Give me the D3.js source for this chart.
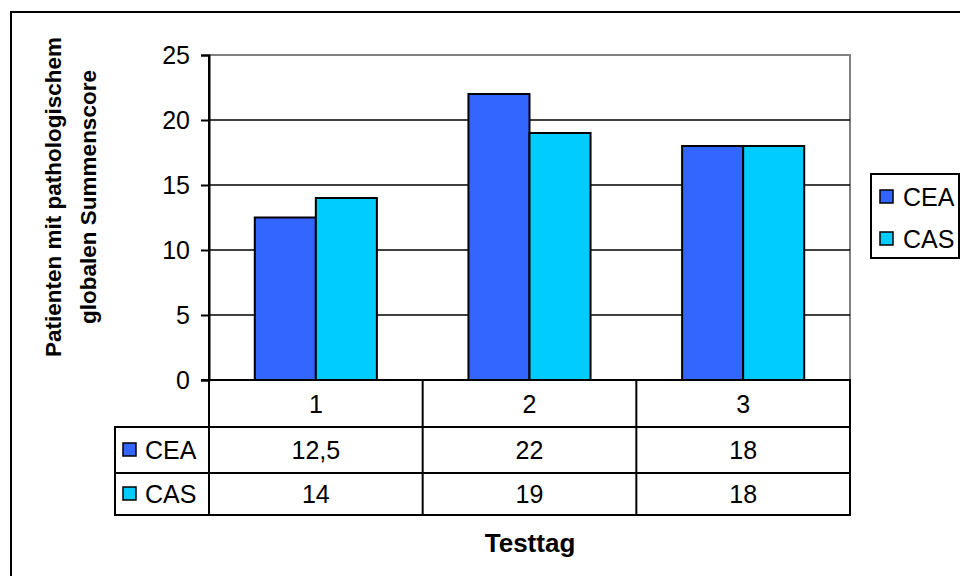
<!DOCTYPE html>
<html>
<head>
<meta charset="utf-8">
<script src="https://cdn.jsdelivr.net/npm/d3@7"></script>
<style>
  html, body { margin: 0; padding: 0; background: #fff; }
  svg text { font-family: "Liberation Sans", Arial, sans-serif; fill: #000; }
</style>
</head>
<body>
<svg id="chart" width="960" height="576"></svg>
<script>
// Testtag categories and the two patient groups
const categories = ["1", "2", "3"];
const seriesNames = ["CEA", "CAS"];
const ceaValues = [12.5, 22, 18];
const casValues = [14, 19, 18];
const tableLabels = [["12,5", "22", "18"], ["14", "19", "18"]];
const yTicks = [0, 5, 10, 15, 20, 25];
const seriesColors = ["#3366FF", "#00CCFF"];

const seriesValues = [ceaValues, casValues];
const FS = 25;

const svg = d3.select("#chart");

// outer chart frame
svg.append("rect")
  .attr("x", 11).attr("y", 12)
  .attr("width", 980).attr("height", 600)
  .attr("fill", "none").attr("stroke", "#000").attr("stroke-width", 2);

const plot = { left: 209, right: 850, top: 55, bottom: 380 };

const y = d3.scaleLinear().domain([0, 25]).range([plot.bottom, plot.top]);
const x0 = d3.scaleBand().domain(categories).range([plot.left, plot.right]).padding(0);
const x1 = d3.scaleBand().domain(seriesNames).range([0, x0.bandwidth()])
  .paddingInner(0).paddingOuter(0.75);

// plot area border (grey top and right)
svg.append("path")
  .attr("d", `M${plot.left},${plot.top}H${plot.right}V${plot.bottom}`)
  .attr("fill", "none").attr("stroke", "#808080").attr("stroke-width", 2);

// horizontal gridlines
svg.append("g")
  .selectAll("line")
  .data(yTicks.filter(t => t > 0 && t < 25))
  .join("line")
  .attr("x1", plot.left).attr("x2", plot.right)
  .attr("y1", d => Math.round(y(d))).attr("y2", d => Math.round(y(d)))
  .attr("stroke", "#000").attr("stroke-width", 1.7);

// bars
const groups = svg.append("g")
  .selectAll("g")
  .data(seriesNames)
  .join("g")
  .attr("fill", (d, i) => seriesColors[i]);

groups.selectAll("rect")
  .data((s, si) => categories.map((c, ci) => ({ s, c, v: seriesValues[si][ci] })))
  .join("rect")
  .attr("x", d => x0(d.c) + x1(d.s))
  .attr("width", x1.bandwidth())
  .attr("y", d => y(d.v))
  .attr("height", d => y(0) - y(d.v))
  .attr("stroke", "#000").attr("stroke-width", 2);

// y axis
const yAxis = d3.axisLeft(y).tickValues(yTicks).tickSize(8).tickPadding(11)
  .tickFormat(d3.format("d"));
const yg = svg.append("g").attr("transform", `translate(${plot.left},0)`).call(yAxis);
yg.select(".domain").attr("stroke", "#000").attr("stroke-width", 2);
yg.selectAll(".tick line").attr("stroke", "#000").attr("stroke-width", 2);
yg.selectAll(".tick text").attr("font-size", FS).attr("font-family", "Liberation Sans, Arial, sans-serif")
  .attr("fill", "#000");

// data table below the plot
const rows = [plot.bottom, 427, 473, 515];
const tableLeft = 115;
const tbl = svg.append("g").attr("stroke", "#000").attr("stroke-width", 2);
// horizontal rules
tbl.append("line").attr("x1", plot.left - 8).attr("x2", plot.right + 1).attr("y1", rows[0]).attr("y2", rows[0]);
[1, 2, 3].forEach(i => {
  tbl.append("line").attr("x1", tableLeft - 1).attr("x2", plot.right + 1).attr("y1", rows[i]).attr("y2", rows[i]);
});
// vertical rules
tbl.append("line").attr("x1", tableLeft).attr("x2", tableLeft).attr("y1", rows[1]).attr("y2", rows[3]);
tbl.append("line").attr("x1", plot.left).attr("x2", plot.left).attr("y1", plot.top).attr("y2", rows[3]);
categories.forEach(c => {
  const xr = x0(c) + x0.bandwidth();
  tbl.append("line").attr("x1", xr).attr("x2", xr).attr("y1", rows[0]).attr("y2", rows[3]);
});

// category labels
svg.append("g").selectAll("text")
  .data(categories)
  .join("text")
  .attr("x", d => x0(d) + x0.bandwidth() / 2)
  .attr("y", (rows[0] + rows[1]) / 2)
  .attr("dy", "0.36em")
  .attr("text-anchor", "middle")
  .attr("font-size", FS)
  .text(d => d);

// value rows
seriesNames.forEach((s, si) => {
  const cy = (rows[si + 1] + rows[si + 2]) / 2;
  const g = svg.append("g");
  g.selectAll("text")
    .data(tableLabels[si])
    .join("text")
    .attr("x", (d, ci) => x0(categories[ci]) + x0.bandwidth() / 2)
    .attr("y", cy)
    .attr("dy", "0.36em")
    .attr("text-anchor", "middle")
    .attr("font-size", FS)
    .text(d => d);
  // legend key inside the table
  g.append("rect")
    .attr("x", 123).attr("y", cy - 7)
    .attr("width", 13).attr("height", 13)
    .attr("fill", seriesColors[si]).attr("stroke", "#000").attr("stroke-width", 1.5);
  g.append("text")
    .attr("x", 145).attr("y", cy).attr("dy", "0.36em")
    .attr("font-size", FS)
    .text(s);
});

// legend box
const lg = svg.append("g");
lg.append("rect")
  .attr("x", 871).attr("y", 174).attr("width", 88).attr("height", 84)
  .attr("fill", "#fff").attr("stroke", "#000").attr("stroke-width", 2);
const legendY = d3.scalePoint().domain(seriesNames).range([197, 239]);
seriesNames.forEach((s, si) => {
  lg.append("rect")
    .attr("x", 880).attr("y", legendY(s) - 7)
    .attr("width", 13).attr("height", 13)
    .attr("fill", seriesColors[si]).attr("stroke", "#000").attr("stroke-width", 1.5);
  lg.append("text")
    .attr("x", 903).attr("y", legendY(s)).attr("dy", "0.36em")
    .attr("font-size", FS)
    .text(s);
});

// axis titles
const yTitle = svg.append("text")
  .attr("transform", "translate(0,197) rotate(-90)")
  .attr("text-anchor", "middle")
  .attr("font-size", 22.5)
  .attr("font-weight", "bold");
yTitle.append("tspan").attr("x", 0).attr("y", 61).text("Patienten mit pathologischem");
yTitle.append("tspan").attr("x", 0).attr("y", 96).text("globalen Summenscore");

svg.append("text")
  .attr("x", 530).attr("y", 552)
  .attr("text-anchor", "middle")
  .attr("font-size", 26)
  .attr("font-weight", "bold")
  .text("Testtag");
</script>
</body>
</html>
